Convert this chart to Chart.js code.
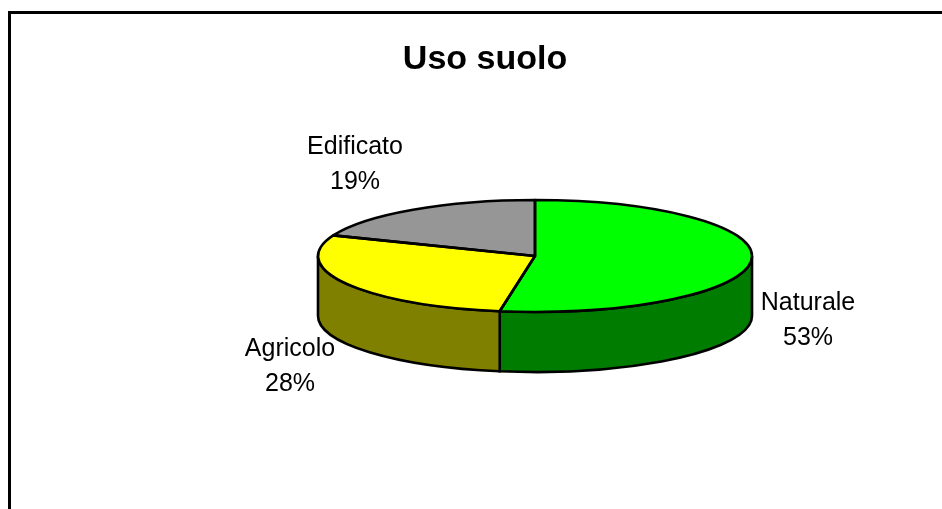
<!DOCTYPE html>
<html lang="it">
<head>
    <meta charset="UTF-8">
    <title>Uso suolo</title>
    <style>
        html, body { margin: 0; padding: 0; background: #fff; overflow: hidden; }
        #wrap { position: relative; width: 942px; height: 509px; }
        canvas { display: block; }
    </style>
</head>
<body>
    <div id="wrap"><canvas id="chart" width="942" height="509"></canvas></div>
    <script src="https://cdn.jsdelivr.net/npm/chart.js@4"></script>
    <script>
        const categories = ['Naturale', 'Agricolo', 'Edificato'];
        const values = [52.6, 28.4, 19];
        const topColors = ['#00ff00', '#ffff00', '#969696'];
        const sideColors = ['#007c00', '#808000', '#4b4b4b'];

        // pie is squashed to an ellipse, wall goes below it
        const pie = { x: 535, y: 256, rx: 217, ry: 56, depth: 60 };
        const labelSpots = [[808, 303], [290, 349], [355, 147]];

        const toPage = (ctx, arc) => {
            ctx.translate(pie.x, pie.y);
            ctx.scale(pie.rx / arc.outerRadius, pie.ry / arc.outerRadius);
            ctx.translate(-arc.x, -arc.y);
        };

        const pie3d = {
            id: 'pie3d',
            beforeDraw(chart) {
                // frame, cropped on the right and bottom
                const ctx = chart.ctx;
                ctx.save();
                ctx.strokeStyle = '#000';
                ctx.lineWidth = 3;
                ctx.beginPath();
                ctx.moveTo(9.5, 509);
                ctx.lineTo(9.5, 12.5);
                ctx.lineTo(942, 12.5);
                ctx.stroke();
                ctx.restore();
            },
            beforeDatasetsDraw(chart) {
                const ctx = chart.ctx;
                const arcs = chart.getDatasetMeta(0).data;
                ctx.save();
                ctx.lineWidth = 2.6;
                ctx.strokeStyle = '#000';
                arcs.forEach((arc, i) => {
                    const from = Math.max(arc.startAngle, 0);
                    const to = Math.min(arc.endAngle, Math.PI);
                    if (to <= from) return;
                    ctx.beginPath();
                    ctx.ellipse(pie.x, pie.y, pie.rx, pie.ry, 0, from, to);
                    ctx.ellipse(pie.x, pie.y + pie.depth, pie.rx, pie.ry, 0, to, from, true);
                    ctx.closePath();
                    ctx.fillStyle = sideColors[i];
                    ctx.fill();
                    ctx.stroke();
                });
                ctx.restore();
                ctx.save();
                toPage(ctx, arcs[0]);
            },
            afterDatasetsDraw(chart) {
                const ctx = chart.ctx;
                const arcs = chart.getDatasetMeta(0).data;
                ctx.restore();

                // outlines stroked after the restore so the pen stays round
                ctx.save();
                ctx.lineWidth = 2.6;
                ctx.strokeStyle = '#000';
                ctx.lineJoin = 'round';
                arcs.forEach(arc => {
                    ctx.beginPath();
                    ctx.moveTo(pie.x, pie.y);
                    ctx.ellipse(pie.x, pie.y, pie.rx, pie.ry, 0, arc.startAngle, arc.endAngle);
                    ctx.closePath();
                    ctx.stroke();
                });

                const total = values.reduce((a, b) => a + b, 0);
                ctx.fillStyle = '#000';
                ctx.font = '25px "Liberation Sans", Arial, sans-serif';
                ctx.textAlign = 'center';
                ctx.textBaseline = 'middle';
                categories.forEach((name, i) => {
                    const [lx, ly] = labelSpots[i];
                    ctx.fillText(name, lx, ly);
                    ctx.fillText(Math.round(values[i] / total * 100) + '%', lx, ly + 35);
                });
                ctx.restore();
            }
        };

        new Chart(document.getElementById('chart'), {
            type: 'pie',
            data: {
                labels: categories,
                datasets: [{
                    data: values,
                    backgroundColor: topColors,
                    borderWidth: 0
                }]
            },
            options: {
                responsive: false,
                animation: false,
                layout: { padding: { left: 28 } },
                plugins: {
                    legend: { display: false },
                    tooltip: { enabled: false },
                    title: {
                        display: true,
                        text: 'Uso suolo',
                        color: '#000',
                        font: { family: '"Liberation Sans", Arial, sans-serif', size: 34, weight: 'bold' },
                        padding: { top: 39, bottom: 10 }
                    }
                }
            },
            plugins: [pie3d]
        });
    </script>
</body>
</html>
